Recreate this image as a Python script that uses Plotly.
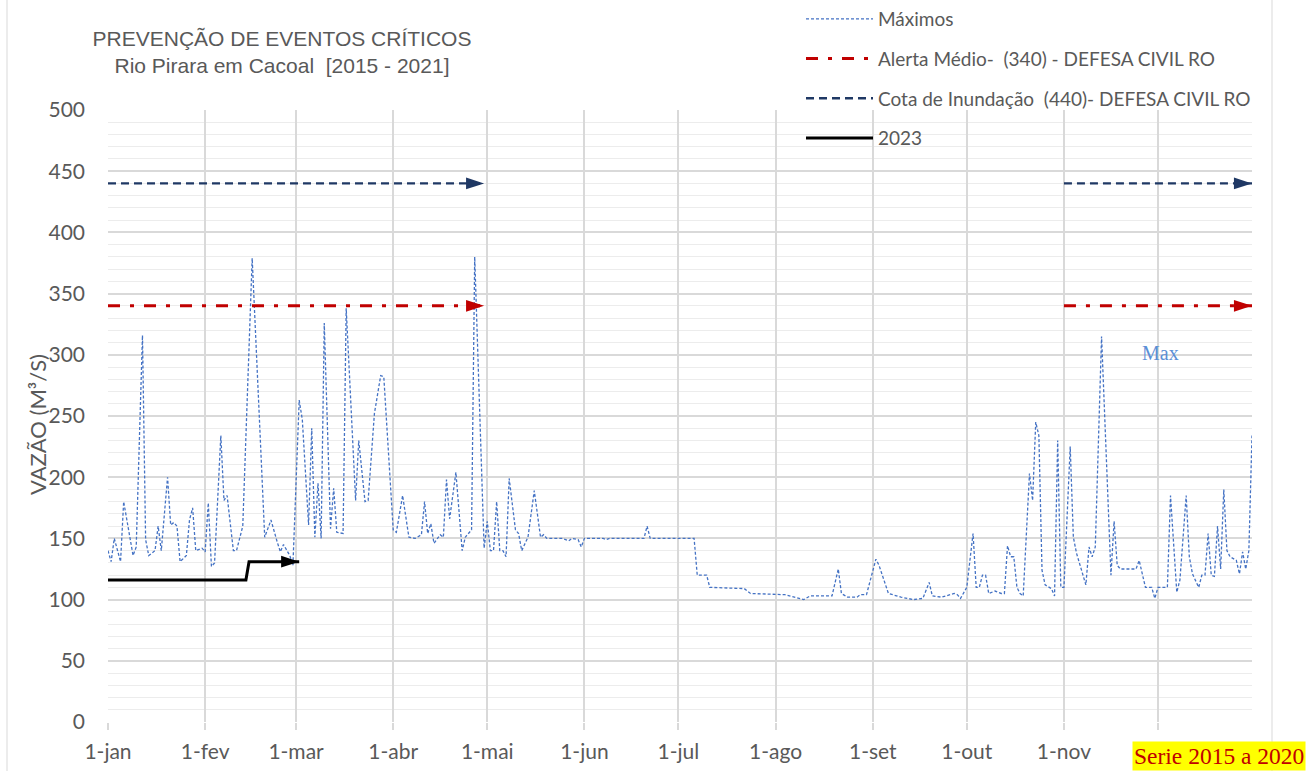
import plotly.graph_objects as go
import pandas as pd

# ---------------- data ----------------
BASE_DATE = "2016-01-01"

# Daily maxima (series 2015-2020), day-of-year index and flow (m3/s)
max_days = [0, 1, 2, 4, 5, 8, 9, 11, 12, 13, 15, 16, 17, 19, 20, 21, 22, 23, 25, 26,
            27, 28, 30, 31, 32, 33, 34, 36, 37, 38, 40, 41, 43, 46, 50, 52, 54, 55, 56, 58,
            59, 61, 62, 64, 65, 66, 67, 68, 69, 71, 72, 73, 75, 76, 79, 80, 82, 83, 85, 87,
            88, 91, 92, 94, 96, 98, 100, 101, 102, 103, 104, 106, 107, 108, 109, 111, 113, 114, 116, 117,
            120, 121, 122, 123, 124, 125, 126, 127, 128, 130, 131, 132, 134, 136, 138, 139, 140, 145, 147, 148,
            150, 151, 152, 158, 159, 160, 171, 172, 173, 187, 188, 191, 192, 203, 205, 212, 216, 219, 222, 224,
            231, 233, 234, 236, 239, 240, 242, 245, 246, 249, 253, 257, 260, 262, 263, 266, 270, 271, 272, 274,
            276, 277, 278, 279, 280, 281, 283, 285, 286, 287, 288, 289, 290, 291, 292, 294, 295, 296, 297, 298,
            299, 301, 302, 303, 304, 305, 307, 308, 309, 312, 313, 314, 315, 317, 319, 320, 321, 322, 323, 325,
            328, 329, 331, 333, 334, 335, 338, 339, 341, 342, 344, 345, 346, 348, 349, 350, 351, 352, 353, 354,
            355, 356, 357, 358, 360, 361, 362, 363, 364, 365]
max_vals = [140, 131, 150, 131, 180, 136, 143, 316, 149, 136, 140, 160, 140, 200, 161, 163, 160, 131, 136, 165,
            175, 140, 142, 139, 179, 127, 130, 234, 181, 185, 140, 140, 160, 379, 151, 165, 147, 139, 145, 136,
            128, 263, 247, 161, 240, 151, 195, 150, 326, 158, 191, 155, 154, 338, 181, 230, 180, 181, 252, 283,
            282, 157, 155, 185, 151, 150, 153, 180, 154, 162, 146, 153, 151, 198, 166, 204, 140, 151, 157, 380,
            142, 164, 140, 140, 180, 140, 140, 135, 199, 157, 154, 140, 151, 189, 151, 153, 150, 150, 148, 150,
            149, 143, 150, 150, 149, 150, 150, 160, 150, 150, 120, 120, 110, 109, 105, 104, 104, 102, 100, 103,
            103, 125, 105, 102, 102, 104, 104, 133, 128, 105, 102, 100, 101, 114, 103, 102, 105, 104, 101, 110,
            154, 110, 110, 120, 120, 105, 107, 105, 105, 144, 135, 135, 110, 105, 103, 203, 181, 245, 234, 124,
            112, 109, 103, 230, 110, 110, 225, 151, 138, 112, 143, 135, 143, 315, 187, 120, 164, 128, 125, 125,
            125, 132, 110, 110, 101, 110, 110, 185, 106, 116, 185, 135, 121, 110, 120, 120, 154, 120, 119, 160,
            125, 190, 140, 135, 132, 121, 139, 125, 140, 234]

# 2023 observed series
y2023_days = [0, 44, 45, 61]
y2023_vals = [116, 116, 131, 131]

# Civil defence reference levels and the periods where they are drawn
alerta_level = 340
cota_level = 440
level_periods = [("2016-01-01", "2016-04-30"), ("2016-11-01", "2016-12-31")]

tick_dates = ["2016-01-01", "2016-02-01", "2016-03-01", "2016-04-01", "2016-05-01", "2016-06-01",
              "2016-07-01", "2016-08-01", "2016-09-01", "2016-10-01", "2016-11-01", "2016-12-01"]
# (the 1-dez label is hidden behind the series box in the original)
tick_labels = ["1-jan", "1-fev", "1-mar", "1-abr", "1-mai", "1-jun",
               "1-jul", "1-ago", "1-set", "1-out", "1-nov", ""]

# ---------------- helpers ----------------
base = pd.Timestamp(BASE_DATE)
def to_dates(days):
    return [base + pd.Timedelta(days=d) for d in days]

GRAY = "#595959"
FONT = "Lato"
RED = "#c00000"
NAVY = "#1f3864"
ARROW = 19

fig = go.Figure()

# Máximos
fig.add_trace(go.Scatter(
    x=to_dates(max_days), y=max_vals, mode="lines", name="Máximos",
    line=dict(color="#4472c4", width=1.3, dash="3px,2px"),
    legendgroup="g1",
))

# Alerta Médio
for i, (a, b) in enumerate(level_periods):
    fig.add_trace(go.Scatter(
        x=[a, b], y=[alerta_level, alerta_level], mode="lines",
        name="Alerta Médio-  (340) - DEFESA CIVIL RO",
        line=dict(color=RED, width=3, dash="12px,10px,4px,10px"),
        legendgroup="g2", showlegend=(i == 0),
    ))
    fig.add_trace(go.Scatter(
        x=[b], y=[alerta_level], mode="markers", showlegend=False, legendgroup="g2",
        marker=dict(symbol="arrow", angle=90, size=ARROW, color=RED),
    ))

# Cota de Inundação
for i, (a, b) in enumerate(level_periods):
    fig.add_trace(go.Scatter(
        x=[a, b], y=[cota_level, cota_level], mode="lines",
        name="Cota de Inundação  (440)- DEFESA CIVIL RO",
        line=dict(color=NAVY, width=2.3, dash="8px,5px"),
        legendgroup="g3", showlegend=(i == 0),
    ))
    fig.add_trace(go.Scatter(
        x=[b], y=[cota_level], mode="markers", showlegend=False, legendgroup="g3",
        marker=dict(symbol="arrow", angle=90, size=ARROW, color=NAVY),
    ))

# 2023
d2023 = to_dates(y2023_days)
fig.add_trace(go.Scatter(
    x=d2023, y=y2023_vals, mode="lines", name="2023",
    line=dict(color="black", width=3),
    legendgroup="g4",
))
fig.add_trace(go.Scatter(
    x=[d2023[-1]], y=[y2023_vals[-1]], mode="markers", showlegend=False, legendgroup="g4",
    marker=dict(symbol="arrow", angle=90, size=ARROW, color="black"),
))

fig.update_layout(
    width=1306, height=771,
    margin=dict(l=108, r=54, t=110, b=49, autoexpand=False),
    paper_bgcolor="white", plot_bgcolor="white",
    font=dict(family=FONT, color=GRAY, size=19),
    title=dict(
        text="PREVENÇÃO DE EVENTOS CRÍTICOS<br>Rio Pirara em Cacoal  [2015 - 2021]",
        font=dict(family="Liberation Sans", size=21, color=GRAY),
        xref="container", x=282 / 1306, xanchor="center",
        yref="container", y=1 - 46 / 771, yanchor="top",
    ),
    legend=dict(
        xref="container", yref="container",
        x=801 / 1306, y=1.0, xanchor="left", yanchor="top",
        bgcolor="rgba(0,0,0,0)", font=dict(family=FONT, size=19, color=GRAY),
        traceorder="grouped", tracegroupgap=12, itemwidth=67,
    ),
    showlegend=True,
)

fig.update_xaxes(
    type="date", range=["2016-01-01", "2016-12-31"],
    tickvals=tick_dates, ticktext=tick_labels,
    showgrid=True, gridcolor="#d9d9d9", gridwidth=1.5,
    ticks="outside", ticklen=7, tickcolor="#d9d9d9", tickwidth=1.5,
    ticklabelstandoff=4, automargin=False,
    tickfont=dict(family=FONT, size=21, color=GRAY),
    showline=False, zeroline=False,
)
fig.update_yaxes(
    range=[0, 500], dtick=50, tick0=0,
    showgrid=True, gridcolor="#d9d9d9", gridwidth=1.5,
    minor=dict(dtick=10, showgrid=True, gridcolor="#ececec", gridwidth=1.3),
    ticks="", ticklabelstandoff=22, automargin=False,
    tickfont=dict(family=FONT, size=21, color=GRAY),
    showline=False, zeroline=False,
)

# y-axis title (placed as in the original, tight against the tick labels)
fig.add_annotation(text="VAZÃO (M³/S)", xref="paper", yref="paper", textangle=-90,
                   x=(38 - 108) / 1144, y=(722 - 425) / 612, xanchor="center", yanchor="middle",
                   showarrow=False, font=dict(family=FONT, size=22, color=GRAY))

# chart frame
fig.add_shape(type="rect", xref="paper", yref="paper",
              x0=(7 - 108) / 1144, x1=(1272 - 108) / 1144,
              y0=-0.1, y1=1.2, line=dict(color="#d9d9d9", width=1), layer="below")

fig.add_annotation(text="Max", xref="paper", yref="paper",
                   x=(1160 - 108) / 1144, y=(722 - 353) / 612, xanchor="center", yanchor="middle",
                   showarrow=False, font=dict(family="Liberation Serif", size=20, color="#5b8fd6"))
fig.add_annotation(text="Serie 2015 a 2020", xref="paper", yref="paper",
                   x=(1219 - 108) / 1144, y=(722 - 756) / 612, xanchor="center", yanchor="middle",
                   showarrow=False, bgcolor="#ffff00", borderpad=1,
                   font=dict(family="Liberation Serif", size=23.5, color=RED))

fig.write_html("out.html", config={"displayModeBar": False},
               post_script="document.body.style.margin='0px';")
